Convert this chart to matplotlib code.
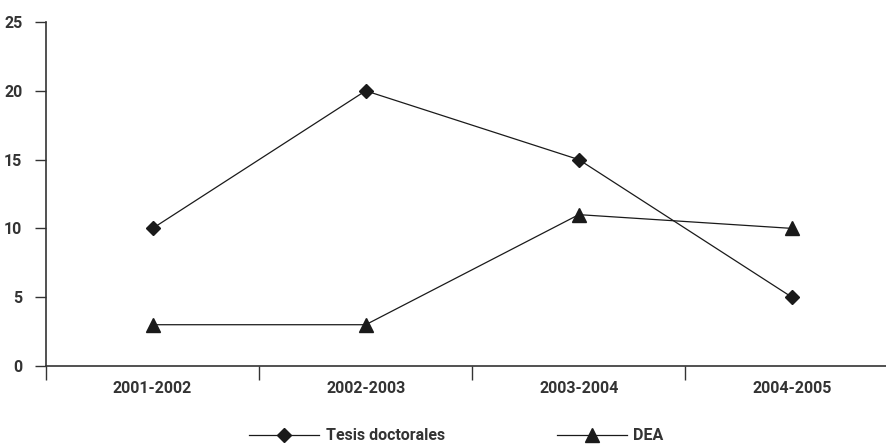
import numpy as np
import matplotlib
matplotlib.use("Agg")
import matplotlib.pyplot as plt

plt.rcParams['font.family'] = ['Roboto', 'DejaVu Sans']

cursos = ['2001-2002', '2002-2003', '2003-2004', '2004-2005']
tesis = [10, 20, 15, 5]
dea = [3, 3, 11, 10]

fig = plt.figure(figsize=(8.86, 4.48), dpi=100)
ax = fig.add_axes([46/886, 82/448, 852.5/886, 344/448])

x = np.arange(len(cursos))
ax.plot(x, tesis, color='#1a1a1a', lw=0.9, marker='D', ms=7, label='Tesis doctorales')
ax.plot(x, dea, color='#1a1a1a', lw=0.9, marker='^', ms=10, label='DEA')

ax.set_xlim(-0.5, len(cursos) - 0.5)
ax.set_ylim(0, 25)
ax.set_yticks(range(0, 26, 5))

# ticks between categories, labels centred
ax.set_xticks(np.arange(-0.5, len(cursos), 1.0))
ax.set_xticklabels([])
ax.set_xticks(x, minor=True)
ax.set_xticklabels(cursos, minor=True)
ax.tick_params(axis='x', which='minor', length=0, pad=11)
ax.tick_params(axis='x', which='major', length=10, width=1, color='#333333')
ax.tick_params(axis='y', length=8, width=1, color='#333333', pad=9)
for lab in ax.get_xticklabels(minor=True) + ax.get_yticklabels():
    lab.set_fontsize(11.5)
    lab.set_fontweight('bold')
    lab.set_color('#333333')

for s in ['top', 'right']:
    ax.spines[s].set_visible(False)
for s in ['left', 'bottom']:
    ax.spines[s].set_color('#333333')
    ax.spines[s].set_linewidth(1.2)

leg = fig.legend(loc='lower center', bbox_to_anchor=(0.515, -0.022), ncol=2, frameon=False,
                 handlelength=4.4, columnspacing=7.0, handletextpad=0.4,
                 prop={'size': 11.5, 'weight': 'bold'})
for t in leg.get_texts():
    t.set_color('#333333')

fig.savefig('out.png', dpi=100)
